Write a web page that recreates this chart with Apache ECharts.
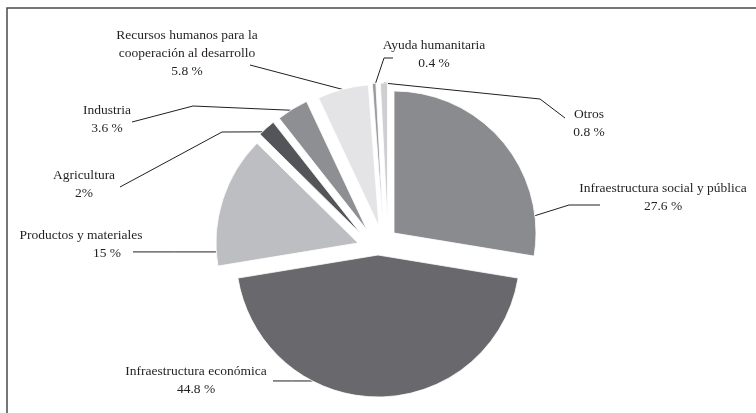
<!DOCTYPE html>
<html>
<head>
<meta charset="utf-8">
<script src="https://cdn.jsdelivr.net/npm/echarts@6/dist/echarts.min.js"></script>
<style>
html,body{margin:0;padding:0;background:#fff;}
#chart{width:756px;height:413px;}
</style>
</head>
<body>
<div id="chart"></div>
<script>
// ---- data ----
const categories = [
  'Infraestructura social y pública',
  'Infraestructura económica',
  'Productos y materiales',
  'Agricultura',
  'Industria',
  'Recursos humanos para la\ncooperación al desarrollo',
  'Ayuda humanitaria',
  'Otros'
];
const values = [27.6, 44.8, 15, 2, 3.6, 5.8, 0.4, 0.8];
const percentSep = [' ', ' ', ' ', '', ' ', ' ', ' ', ' '];

// ---- styling / layout ----
const colors = ['#8a8b8f', '#69696d', '#bdbec2', '#545558', '#8e8f93', '#e4e4e6', '#9b9b9f', '#cfcfd2'];
const center = [378, 247];
const radius = 142;
// per-slice explosion offset (dx, dy) in px
const sliceShift = [[16, -14], [0, 8], [-20, -4], [-17, -13], [-11, -17], [1, -20.5], [5, -22], [9.5, -22]];
// label text centres
const labelPos = [
  [663, 197], [196, 380], [81, 244], [84, 184],
  [107, 119], [187, 53], [434, 54], [589, 123]
];
// leader line: angle (deg, clockwise from top) where it touches the slice, then bend and end points
const leaderAngle = [83, 207.5, 266.4, 316, 327.5, 345, 357, 358.5];
const leaderBend = [[569, 205], null, null, [222, 132], [193, 106], null, [384, 58], [540, 99]];
const leaderEnd = [[600, 205], [273, null], [133, null], [120, 187], [132, 122], [250, 65], [393, 58], [565, 118]];
const textColor = '#231f20';
const fontFamily = 'Liberation Serif';

const chart = echarts.init(document.getElementById('chart'), null, {renderer: 'canvas'});

function leaderPoints(i) {
  const cx = center[0] + sliceShift[i][0];
  const cy = center[1] + sliceShift[i][1];
  const a = leaderAngle[i] * Math.PI / 180;
  const s = [cx + radius * Math.sin(a), cy - radius * Math.cos(a)];
  const e = [leaderEnd[i][0], leaderEnd[i][1] == null ? s[1] : leaderEnd[i][1]];
  const b = leaderBend[i] || [(s[0] + e[0]) / 2, (s[1] + e[1]) / 2];
  return [s, b, e];
}

const series = categories.map(function (_, k) {
  return {
    type: 'pie',
    center: [center[0] + sliceShift[k][0], center[1] + sliceShift[k][1]],
    radius: radius,
    startAngle: 90,
    clockwise: true,
    avoidLabelOverlap: false,
    silent: true,
    animation: false,
    emphasis: {disabled: true},
    label: {
      show: true,
      position: 'outside',
      fontFamily: fontFamily,
      fontSize: 13.5,
      lineHeight: 18,
      color: textColor,
      align: 'center',
      formatter: function (p) {
        const v = values[p.dataIndex] + percentSep[p.dataIndex] + '%';
        if (p.dataIndex === 2) return p.name + '\n{s|' + v + '}';
        return p.name + '\n' + v;
      },
      rich: {
        s: {fontFamily: fontFamily, fontSize: 13.5, lineHeight: 18, color: textColor, padding: [0, 0, 0, 52]}
      }
    },
    labelLine: {show: true, length: 15, length2: 20, lineStyle: {color: textColor, width: 1}},
    labelLayout: function (p) {
      const i = p.dataIndex;
      const pos = labelPos[i];
      return {x: pos[0], y: pos[1], align: 'center', verticalAlign: 'middle', labelLinePoints: leaderPoints(i)};
    },
    data: categories.map(function (c, i) {
      const mine = i === k;
      return {
        name: c,
        value: values[i],
        itemStyle: mine ? {color: colors[i], borderColor: '#fff', borderWidth: 0.8} : {color: 'rgba(0,0,0,0)', borderWidth: 0},
        label: {show: mine},
        labelLine: {show: mine}
      };
    })
  };
});

chart.setOption({
  backgroundColor: '#fff',
  animation: false,
  graphic: [{
    type: 'rect',
    shape: {x: 7, y: 8, width: 800, height: 450},
    style: {fill: 'none', stroke: '#4a4a4a', lineWidth: 1.5},
    silent: true
  }],
  series: series
});
</script>
</body>
</html>
